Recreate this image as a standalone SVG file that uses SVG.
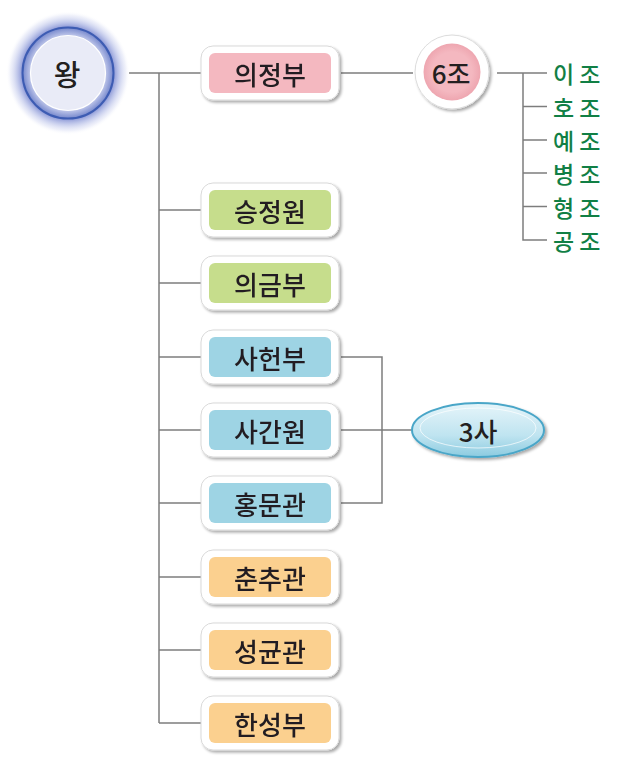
<svg xmlns="http://www.w3.org/2000/svg" width="622" height="764" viewBox="0 0 622 764">
<defs>
<style>
.ln{stroke:#7d7d7d;stroke-width:1.5;fill:none}
.outer{fill:#ffffff;stroke:#d9d9d9;stroke-width:1}
.t{font-family:"Noto Sans CJK KR","Noto Sans",sans-serif;font-size:26px;font-weight:500;fill:#231f20;text-anchor:middle;dominant-baseline:central}
.g{font-family:"Noto Sans CJK KR","Noto Sans",sans-serif;font-size:23px;font-weight:500;fill:#117f45;letter-spacing:5px;dominant-baseline:central}
.pink{fill:#f4b8c0}
.green{fill:#c6dd8c}
.blue{fill:#9ed4e4}
.orange{fill:#fbd08f}
</style>
<filter id="sh" x="-20%" y="-20%" width="140%" height="150%">
<feGaussianBlur in="SourceAlpha" stdDeviation="1.6"/>
<feOffset dx="1.5" dy="2" result="b"/>
<feComponentTransfer><feFuncA type="linear" slope="0.35"/></feComponentTransfer>
<feMerge><feMergeNode/><feMergeNode in="SourceGraphic"/></feMerge>
</filter>
<radialGradient id="glow" cx="0.5" cy="0.5" r="0.5">
<stop offset="0.7" stop-color="#5d6dc4" stop-opacity="0.9"/>
<stop offset="0.82" stop-color="#8e9bda" stop-opacity="0.55"/>
<stop offset="0.93" stop-color="#c0c7ec" stop-opacity="0.25"/>
<stop offset="1" stop-color="#ffffff" stop-opacity="0"/>
</radialGradient>
<radialGradient id="ring" cx="0.5" cy="0.5" r="0.5">
<stop offset="0.8" stop-color="#c9cfee"/>
<stop offset="1" stop-color="#7587cc"/>
</radialGradient>
<radialGradient id="pinkc" cx="0.5" cy="0.5" r="0.5">
<stop offset="0.7" stop-color="#f4b8c0"/>
<stop offset="1" stop-color="#eea6b0"/>
</radialGradient>
<linearGradient id="ell" x1="0" y1="0" x2="0" y2="1">
<stop offset="0" stop-color="#e6f5fa"/>
<stop offset="0.6" stop-color="#bfe4f0"/>
<stop offset="1" stop-color="#8ccbe0"/>
</linearGradient>
</defs>

<g id="connectors">
<line class="ln" x1="129" y1="73" x2="201" y2="73"/>
<line class="ln" x1="159" y1="73" x2="159" y2="723"/>
<line class="ln" x1="159" y1="210" x2="201" y2="210"/>
<line class="ln" x1="159" y1="283" x2="201" y2="283"/>
<line class="ln" x1="159" y1="357" x2="201" y2="357"/>
<line class="ln" x1="159" y1="430" x2="201" y2="430"/>
<line class="ln" x1="159" y1="503" x2="201" y2="503"/>
<line class="ln" x1="159" y1="577" x2="201" y2="577"/>
<line class="ln" x1="159" y1="650" x2="201" y2="650"/>
<line class="ln" x1="159" y1="723" x2="201" y2="723"/>
<line class="ln" x1="341" y1="73" x2="413" y2="73"/>
<line class="ln" x1="497" y1="73" x2="547" y2="73"/>
<polyline class="ln" points="523,73 523,240 547,240"/>
<line class="ln" x1="523" y1="106.5" x2="547" y2="106.5"/>
<line class="ln" x1="523" y1="140" x2="547" y2="140"/>
<line class="ln" x1="523" y1="173" x2="547" y2="173"/>
<line class="ln" x1="523" y1="206.5" x2="547" y2="206.5"/>
<polyline class="ln" points="341,357 382,357 382,503 341,503"/>
<line class="ln" x1="341" y1="430" x2="412" y2="430"/>
</g>

<g id="king">
<circle cx="68" cy="73" r="62" fill="url(#glow)"/>
<circle cx="68" cy="73" r="45.5" fill="url(#ring)" stroke="#3d5cb3" stroke-width="2"/>
<circle cx="68" cy="73" r="37.5" fill="#e9ebf7" stroke="#ffffff" stroke-width="1.2"/>
<text class="t" x="67" y="73" style="font-size:29px">왕</text>
</g>

<g id="uijeongbu" filter="url(#sh)">
<rect class="outer" x="201" y="46" width="138" height="54" rx="12"/>
<rect class="pink" x="209" y="53" width="122" height="40" rx="6"/>
<text class="t" x="270" y="73">의정부</text>
</g>

<g id="seungjeongwon" filter="url(#sh)">
<rect class="outer" x="201" y="183" width="138" height="54" rx="12"/>
<rect class="green" x="209" y="190" width="122" height="40" rx="6"/>
<text class="t" x="270" y="210">승정원</text>
</g>

<g id="uigeumbu" filter="url(#sh)">
<rect class="outer" x="201" y="256" width="138" height="54" rx="12"/>
<rect class="green" x="209" y="263" width="122" height="40" rx="6"/>
<text class="t" x="270" y="283">의금부</text>
</g>

<g id="saheonbu" filter="url(#sh)">
<rect class="outer" x="201" y="330" width="138" height="54" rx="12"/>
<rect class="blue" x="209" y="337" width="122" height="40" rx="6"/>
<text class="t" x="270" y="357">사헌부</text>
</g>

<g id="saganwon" filter="url(#sh)">
<rect class="outer" x="201" y="403" width="138" height="54" rx="12"/>
<rect class="blue" x="209" y="410" width="122" height="40" rx="6"/>
<text class="t" x="270" y="430">사간원</text>
</g>

<g id="hongmungwan" filter="url(#sh)">
<rect class="outer" x="201" y="476" width="138" height="54" rx="12"/>
<rect class="blue" x="209" y="483" width="122" height="40" rx="6"/>
<text class="t" x="270" y="503">홍문관</text>
</g>

<g id="chunchugwan" filter="url(#sh)">
<rect class="outer" x="201" y="550" width="138" height="54" rx="12"/>
<rect class="orange" x="209" y="557" width="122" height="40" rx="6"/>
<text class="t" x="270" y="577">춘추관</text>
</g>

<g id="seonggyungwan" filter="url(#sh)">
<rect class="outer" x="201" y="623" width="138" height="54" rx="12"/>
<rect class="orange" x="209" y="630" width="122" height="40" rx="6"/>
<text class="t" x="270" y="650">성균관</text>
</g>

<g id="hanseongbu" filter="url(#sh)">
<rect class="outer" x="201" y="696" width="138" height="54" rx="12"/>
<rect class="orange" x="209" y="703" width="122" height="40" rx="6"/>
<text class="t" x="270" y="723">한성부</text>
</g>

<g id="yukjo">
<circle cx="452" cy="72" r="37" fill="#ffffff" stroke="#dcdcdc" filter="url(#sh)"/>
<circle cx="452" cy="72" r="28.5" fill="url(#pinkc)"/>
<text class="t" x="451" y="72">6조</text>
</g>

<g id="samsa">
<ellipse cx="478" cy="430" rx="66" ry="27" fill="url(#ell)" stroke="#4aa6c8" stroke-width="2" filter="url(#sh)"/>
<ellipse cx="478" cy="428" rx="58" ry="20" fill="none" stroke="#ffffff" stroke-opacity="0.7" stroke-width="1"/>
<text class="t" x="478" y="430">3사</text>
</g>

<g id="jo-list">
<text class="g" x="553" y="73">이조</text>
<text class="g" x="553" y="106.5">호조</text>
<text class="g" x="553" y="140">예조</text>
<text class="g" x="553" y="173">병조</text>
<text class="g" x="553" y="206.5">형조</text>
<text class="g" x="553" y="240">공조</text>
</g>
</svg>
